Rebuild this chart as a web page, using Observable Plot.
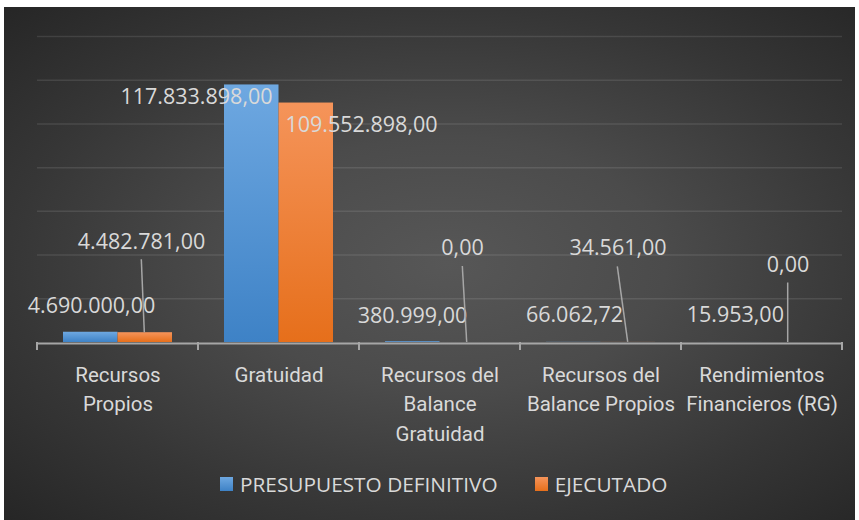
<!DOCTYPE html>
<html>
<head>
<meta charset="utf-8">
<script src="https://cdn.jsdelivr.net/npm/d3@7"></script>
<script src="https://cdn.jsdelivr.net/npm/@observablehq/plot@0.6"></script>
<style>
  html, body { margin: 0; padding: 0; background: #ffffff; }
  #bg { position: absolute; left: 4px; top: 7px; width: 851px; height: 513px;
        background: radial-gradient(ellipse farthest-corner at 52% 50%, #575757 0%, #4b4b4b 35%, #363636 70%, #262626 100%); }
  #chart { position: absolute; left: 0; top: 0; }
  #legend { position: absolute; left: 220px; top: 471px; display: flex; align-items: center;
            font-family: "Open Sans", sans-serif; font-size: 20.8px; line-height: 26px; color: #d9d9d9; }
  #legend .sw { display: inline-block; width: 13px; height: 14px; margin-right: 7px; }
  #legend .item { display: flex; align-items: center; margin-right: 37px; }
</style>
</head>
<body>
<div id="bg"></div>
<div id="chart"></div>
<div id="legend"></div>
<script>
// ---- data ----
const categories = [
  "Recursos Propios",
  "Gratuidad",
  "Recursos del Balance Gratuidad",
  "Recursos del Balance Propios",
  "Rendimientos Financieros (RG)"
];
const tickLabels = [
  "Recursos\nPropios",
  "Gratuidad",
  "Recursos del\nBalance\nGratuidad",
  "Recursos del\nBalance Propios",
  "Rendimientos\nFinancieros (RG)"
];
const seriesNames = ["PRESUPUESTO DEFINITIVO", "EJECUTADO"];
const presupuesto = [4690000, 117833898, 380999, 66062.72, 15953];
const ejecutado = [4482781, 109552898, 0, 34561, 0];
const yTicks = [0, 20e6, 40e6, 60e6, 80e6, 100e6, 120e6, 140e6];

// ---- layout (label offsets in px, relative to band centre / bar top) ----
const presLabelOffset = [[-26.5, -26], [-82.5, 12.5], [-27.5, -26], [-26.5, -27], [-26.7, -27]];
const ejeLabelOffset  = [[23.5, -91], [82.5, 22.5], [22.5, -94], [17, -94], [26, -77]];
const leaderOffset = [[23.8, -73, 26.8, 0], null, [22.8, -76, 27.2, 0], [16.8, -75.5, 27.2, 0], [26.2, -59.5, 26.2, 0]];
const seriesColors = [["#6ea8e1", "#3e82c6"], ["#f5945a", "#e66f1b"]];

const fmt = d3.formatLocale({decimal: ",", thousands: ".", grouping: [3], currency: ["", ""]}).format(",.2f");

const presRows = categories.map((c, i) => ({cat: c, series: seriesNames[0], value: presupuesto[i]}));
const ejeRows = categories.map((c, i) => ({cat: c, series: seriesNames[1], value: ejecutado[i]}));

const labelStyle = {fill: "#d9d9d9", fontSize: 21.5, fontFamily: "Open Sans"};
const labelMarks = [
  ...presRows.map((d, i) => Plot.text([d], {x: "cat", y: "value", text: r => fmt(r.value),
      dx: presLabelOffset[i][0], dy: presLabelOffset[i][1], ...labelStyle})),
  ...ejeRows.map((d, i) => Plot.text([d], {x: "cat", y: "value", text: r => fmt(r.value),
      dx: ejeLabelOffset[i][0], dy: ejeLabelOffset[i][1], ...labelStyle}))
];

const chart = Plot.plot({
  width: 859, height: 460,
  marginTop: 36, marginBottom: 118, marginLeft: 37, marginRight: 17,
  style: {background: "transparent", color: "#d9d9d9", fontFamily: "Open Sans"},
  x: {domain: categories, padding: 0, axis: null},
  y: {domain: [0, 140e6], axis: null},
  marks: [
    Plot.gridY(yTicks.filter(d => d > 0), {stroke: "#ffffff", strokeOpacity: 0.1, strokeWidth: 1.5}),
    Plot.ruleY([0], {stroke: "#a6a6a6", strokeWidth: 2, dy: 1}),
    Plot.barY(presRows, {x: "cat", y: "value", fill: "url(#gradBlue)", insetLeft: 26, insetRight: 80.5}),
    Plot.barY(ejeRows, {x: "cat", y: "value", fill: "url(#gradOrange)", insetLeft: 80.5, insetRight: 26}),
    Plot.text(categories, {x: d => d, text: (d, i) => tickLabels[i], frameAnchor: "bottom", lineAnchor: "top",
      dy: 18.5, fontSize: 20.5, lineHeight: 1.44, fontFamily: "Roboto", fill: "#d9d9d9"}),
    ...labelMarks
  ]
});

const svg = d3.select(chart);
const defs = svg.insert("defs", ":first-child");
[["gradBlue", seriesColors[0]], ["gradOrange", seriesColors[1]]].forEach(([id, [c0, c1]]) => {
  const g = defs.append("linearGradient").attr("id", id).attr("x1", 0).attr("y1", 0).attr("x2", 0).attr("y2", 1);
  g.append("stop").attr("offset", "0%").attr("stop-color", c0);
  g.append("stop").attr("offset", "100%").attr("stop-color", c1);
});

// tick marks at category boundaries and leader lines, from Plot's scales
const xs = chart.scale("x"), ys = chart.scale("y");
const bw = xs.bandwidth;
const y0 = ys.apply(0) + 1;
const extra = svg.append("g");
const edges = categories.map(c => xs.apply(c)).concat([xs.apply(categories[categories.length - 1]) + bw]);
edges.forEach(x => extra.append("line").attr("x1", x).attr("x2", x).attr("y1", y0 - 1).attr("y2", y0 + 7)
  .attr("stroke", "#a6a6a6").attr("stroke-width", 2));
ejeRows.forEach((d, i) => {
  const L = leaderOffset[i];
  if (!L) return;
  const cx = xs.apply(d.cat) + bw / 2, ty = ys.apply(d.value);
  extra.append("line").attr("x1", cx + L[0]).attr("y1", ty + L[1]).attr("x2", cx + L[2]).attr("y2", ty + L[3])
    .attr("stroke", "#a6a6a6").attr("stroke-width", 1.5);
});

document.getElementById("chart").appendChild(chart);

// legend
const legend = d3.select("#legend");
seriesNames.forEach((name, i) => {
  const item = legend.append("div").attr("class", "item");
  item.append("span").attr("class", "sw")
    .style("background", `linear-gradient(${seriesColors[i][0]}, ${seriesColors[i][1]})`);
  item.append("span").text(name);
});
</script>
</body>
</html>
